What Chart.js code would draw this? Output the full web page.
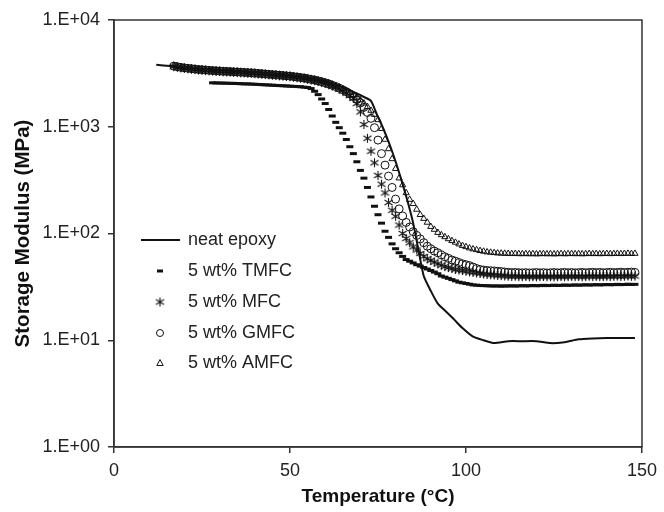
<!DOCTYPE html>
<html>
<head>
<meta charset="utf-8">
<script src="https://cdn.jsdelivr.net/npm/chart.js@4"></script>
<style>
  body { margin: 0; background: #fff; }
  #wrap { width: 664px; height: 512px; }
</style>
</head>
<body>
<div id="wrap"><canvas id="dmaChart" width="664" height="512"></canvas></div>
<script>
// temperatures (°C) of the composite scans, one point per degree
const tempC = [
  17, 18, 19, 20, 21, 22, 23, 24, 25, 26,
  27, 28, 29, 30, 31, 32, 33, 34, 35, 36,
  37, 38, 39, 40, 41, 42, 43, 44, 45, 46,
  47, 48, 49, 50, 51, 52, 53, 54, 55, 56,
  57, 58, 59, 60, 61, 62, 63, 64, 65, 66,
  67, 68, 69, 70, 71, 72, 73, 74, 75, 76,
  77, 78, 79, 80, 81, 82, 83, 84, 85, 86,
  87, 88, 89, 90, 91, 92, 93, 94, 95, 96,
  97, 98, 99, 100, 101, 102, 103, 104, 105, 106,
  107, 108, 109, 110, 111, 112, 113, 114, 115, 116,
  117, 118, 119, 120, 121, 122, 123, 124, 125, 126,
  127, 128, 129, 130, 131, 132, 133, 134, 135, 136,
  137, 138, 139, 140, 141, 142, 143, 144, 145, 146,
  147, 148
];

// neat epoxy (solid line)
const neatTemp = [12, 16, 20, 25, 30, 35, 40, 45, 50, 55, 60, 64, 67, 69, 71, 73, 74.5, 76, 77.5, 79,
  80.5, 82, 83.5, 85, 86.5, 88, 90, 92, 94, 96.5, 99, 102, 105, 108, 112, 116, 120, 124, 128, 132,
  136, 140, 144, 148];
const neatE = [3800, 3700, 3600, 3500, 3400, 3350, 3250, 3150, 3050, 2900, 2650, 2400, 2200, 2050, 1900, 1750, 1350, 1050, 800, 590,
  420, 290, 195, 125, 70, 40, 29, 22, 19, 15.8, 13, 10.8, 10, 9.4, 9.8, 9.8, 9.8, 9.4, 9.6, 10.2,
  10.4, 10.5, 10.5, 10.5];

// 5 wt% TMFC starts at 28 °C
const tmfcStart = 11;
const tmfcE = [
  2580, 2570, 2570, 2560, 2560, 2550, 2550, 2540, 2530, 2520,
  2520, 2510, 2500, 2490, 2480, 2470, 2460, 2450, 2440, 2430,
  2420, 2410, 2400, 2390, 2380, 2370, 2350, 2330, 2280, 2150,
  2000, 1820, 1650, 1450, 1260, 1100, 980, 870, 760, 650,
  560, 470, 390, 330, 270, 220, 180, 150, 125, 105,
  92, 80, 72, 66, 61, 57, 55, 53, 51, 49.5,
  48, 46.5, 45, 43.5, 42, 40, 39, 38, 37, 36,
  35, 34.5, 34, 33.5, 33, 32.8, 32.6, 32.5, 32.4, 32.3,
  32.2, 32.3, 32.1, 32.3, 32.2, 32.4, 32.2, 32.3, 32.5, 32.3,
  32.4, 32.6, 32.4, 32.5, 32.7, 32.5, 32.6, 32.8, 32.6, 32.7,
  32.9, 32.7, 32.8, 33, 32.8, 32.9, 33.1, 32.9, 33, 33.2,
  33, 33.1, 33.3, 33.1, 33.2, 33.4, 33.2, 33.3, 33.5, 33.3,
  33.4
];

const mfcE = [
  3650, 3600, 3560, 3520, 3490, 3460, 3430, 3400, 3380, 3360,
  3340, 3320, 3300, 3290, 3270, 3260, 3250, 3230, 3220, 3200,
  3190, 3170, 3160, 3140, 3120, 3100, 3080, 3060, 3040, 3020,
  3000, 2980, 2960, 2940, 2910, 2880, 2850, 2820, 2780, 2740,
  2700, 2650, 2600, 2540, 2480, 2410, 2340, 2260, 2170, 2070,
  1960, 1840, 1650, 1380, 1050, 780, 590, 460, 350, 290,
  240, 195, 165, 145, 120, 100, 90, 82, 75, 70,
  65, 61, 58, 56, 54, 52, 50.5, 49, 48, 47,
  46, 45.5, 45, 44.3, 43.7, 43.2, 42.7, 42.2, 41.8, 41.4,
  41.1, 40.8, 40.5, 40.3, 40, 39.8, 39.6, 39.8, 39.5, 39.4,
  39.6, 39.3, 39.5, 39.2, 39.4, 39.6, 39.3, 39.5, 39.2, 39.4,
  39.6, 39.3, 39.5, 39.7, 39.4, 39.6, 39.3, 39.5, 39.8, 39.5,
  39.7, 39.4, 39.6, 39.8, 39.5, 39.7, 39.9, 39.6, 39.8, 40,
  39.7, 39.9
];

const gmfcE = [
  3700, 3650, 3600, 3560, 3530, 3500, 3470, 3440, 3420, 3400,
  3380, 3360, 3340, 3330, 3310, 3300, 3290, 3270, 3260, 3240,
  3230, 3210, 3200, 3180, 3160, 3140, 3120, 3100, 3080, 3060,
  3040, 3020, 3000, 2980, 2950, 2920, 2890, 2860, 2820, 2780,
  2740, 2690, 2640, 2580, 2520, 2450, 2380, 2300, 2220, 2130,
  2030, 1920, 1800, 1670, 1520, 1360, 1200, 980, 750, 560,
  437, 345, 270, 210, 170, 146, 127, 115, 104, 96,
  89, 82, 76, 72, 68.5, 66, 63, 60.5, 58.5, 56.5,
  55, 53.5, 52, 51, 50, 48.5, 47, 46, 45.4, 45,
  44.8, 44.6, 44.3, 44, 43.6, 43.3, 43, 43.2, 42.9, 42.8,
  43, 42.7, 42.9, 43.1, 42.8, 43, 42.7, 42.9, 43.1, 42.8,
  43, 43.2, 42.9, 43.1, 42.8, 43, 43.2, 42.9, 43.1, 43.3,
  43, 43.2, 42.9, 43.1, 43.3, 43, 43.2, 43.4, 43.1, 43.3,
  43.5, 43.2
];

const amfcE = [
  3750, 3700, 3650, 3610, 3580, 3550, 3520, 3490, 3470, 3450,
  3430, 3410, 3390, 3380, 3360, 3350, 3340, 3320, 3310, 3290,
  3280, 3260, 3250, 3230, 3210, 3190, 3170, 3150, 3130, 3110,
  3090, 3070, 3050, 3030, 3000, 2970, 2940, 2910, 2870, 2830,
  2790, 2740, 2690, 2630, 2570, 2500, 2430, 2350, 2270, 2180,
  2090, 1990, 1890, 1780, 1660, 1540, 1420, 1300, 1160, 960,
  760, 620, 500, 405, 330, 285, 240, 208, 190, 168,
  150, 138, 127, 116, 109, 102, 97, 93, 89, 85.5,
  82.5, 79.5, 77, 75, 73, 71.5, 70.3, 69, 68, 67,
  66.5, 66, 65.5, 65.2, 65, 64.8, 64.6, 64.8, 64.5, 64.4,
  64.6, 64.3, 64.5, 64.2, 64.4, 64.6, 64.3, 64.5, 64.2, 64.4,
  64.6, 64.3, 64.5, 64.7, 64.4, 64.6, 64.3, 64.5, 64.8, 64.5,
  64.7, 64.4, 64.6, 64.8, 64.5, 64.7, 64.9, 64.6, 64.8, 65,
  64.7, 64.9
];

const seriesNames = ["neat epoxy", "5 wt% TMFC", "5 wt% MFC", "5 wt% GMFC", "5 wt% AMFC"];
const yTicks = [1, 10, 100, 1000, 10000];
const xTicks = [0, 50, 100, 150];

const ink = "#111";
const fontFamily = "'Liberation Sans', Arial, sans-serif";

// six-armed asterisk used for the MFC points
const star = document.createElement("canvas");
star.width = 11;
star.height = 11;
(function () {
  const c = star.getContext("2d");
  c.strokeStyle = ink;
  c.lineWidth = 1.1;
  c.beginPath();
  c.moveTo(5.5, 1); c.lineTo(5.5, 10);
  c.moveTo(1.5, 3); c.lineTo(9.5, 8);
  c.moveTo(9.5, 3); c.lineTo(1.5, 8);
  c.stroke();
})();

const pts = (xs, ys) => ys.map((v, i) => ({ x: xs[i], y: v }));

const markerStyles = [
  null,
  { pointStyle: "line", pointRadius: 3.5, pointBorderWidth: 3 },
  { pointStyle: star, pointRadius: 5, pointBorderWidth: 1 },
  { pointStyle: "circle", pointRadius: 4, pointBorderWidth: 1 },
  { pointStyle: "triangle", pointRadius: 3.6, pointBorderWidth: 1 }
];

function markerSet(label, data, style) {
  return Object.assign({
    label,
    data,
    showLine: false,
    borderColor: ink,
    backgroundColor: "rgba(0,0,0,0)",
    pointBorderColor: ink,
    pointBackgroundColor: "rgba(0,0,0,0)"
  }, style);
}

const frameAndLegend = {
  id: "frameAndLegend",
  afterDraw(chart) {
    const { ctx, chartArea: a } = chart;
    ctx.save();
    ctx.strokeStyle = "#333";
    ctx.lineWidth = 1.5;
    ctx.strokeRect(a.left, a.top, a.right - a.left, a.bottom - a.top);

    const rows = [240, 271, 302, 333, 363];
    const mx = 160;
    ctx.fillStyle = "#222";
    ctx.font = "18px " + fontFamily;
    ctx.textBaseline = "middle";
    ctx.textAlign = "left";
    rows.forEach((y, i) => {
      ctx.fillText(seriesNames[i], 188, y);
    });

    ctx.strokeStyle = ink;
    // line sample
    ctx.lineWidth = 2;
    ctx.beginPath();
    ctx.moveTo(141, rows[0]); ctx.lineTo(180, rows[0]);
    ctx.stroke();
    // dash
    ctx.lineWidth = 3;
    ctx.beginPath();
    ctx.moveTo(mx - 3, rows[1]); ctx.lineTo(mx + 3, rows[1]);
    ctx.stroke();
    // asterisk
    ctx.drawImage(star, mx - 5.5, rows[2] - 5.5);
    // circle
    ctx.lineWidth = 1;
    ctx.beginPath();
    ctx.arc(mx, rows[3], 3.5, 0, Math.PI * 2);
    ctx.stroke();
    // triangle
    ctx.beginPath();
    ctx.moveTo(mx, rows[4] - 3.5);
    ctx.lineTo(mx + 3.2, rows[4] + 2.5);
    ctx.lineTo(mx - 3.2, rows[4] + 2.5);
    ctx.closePath();
    ctx.stroke();
    ctx.restore();
  }
};

new Chart(document.getElementById("dmaChart"), {
  type: "scatter",
  data: {
    datasets: [
      {
        label: seriesNames[0],
        data: pts(neatTemp, neatE),
        showLine: true,
        borderColor: ink,
        borderWidth: 2,
        pointRadius: 0,
        tension: 0.2
      },
      markerSet(seriesNames[1], pts(tempC.slice(tmfcStart), tmfcE), markerStyles[1]),
      markerSet(seriesNames[2], pts(tempC, mfcE), markerStyles[2]),
      markerSet(seriesNames[3], pts(tempC, gmfcE), markerStyles[3]),
      markerSet(seriesNames[4], pts(tempC, amfcE), markerStyles[4])
    ]
  },
  options: {
    responsive: false,
    animation: false,
    layout: { padding: { top: 20, right: 19, left: 0, bottom: 0 } },
    plugins: {
      legend: { display: false },
      tooltip: { enabled: false }
    },
    scales: {
      x: {
        type: "linear",
        min: 0,
        max: 150,
        afterBuildTicks: s => { s.ticks = xTicks.map(v => ({ value: v })); },
        afterFit: s => { s.height = 65; },
        grid: { drawOnChartArea: false, tickLength: 6, color: "#333", lineWidth: 1.5 },
        border: { color: "#333", width: 1.5 },
        ticks: { color: "#222", padding: 7, font: { family: fontFamily, size: 18 } },
        title: {
          display: true,
          text: "Temperature (°C)",
          color: "#111",
          padding: { top: 0, bottom: 4 },
          font: { family: fontFamily, size: 19, weight: "bold" }
        }
      },
      y: {
        type: "logarithmic",
        min: 1,
        max: 10000,
        afterBuildTicks: s => { s.ticks = yTicks.map(v => ({ value: v })); },
        afterFit: s => { s.width = 114; },
        grid: { drawOnChartArea: false, tickLength: 6, color: "#333", lineWidth: 1.5 },
        border: { color: "#333", width: 1.5 },
        ticks: {
          color: "#222",
          padding: 8,
          font: { family: fontFamily, size: 18 },
          callback: v => "1.E+" + String(Math.round(Math.log10(v))).padStart(2, "0")
        },
        title: {
          display: true,
          text: "Storage Modulus (MPa)",
          color: "#111",
          padding: { top: 11, bottom: 0 },
          font: { family: fontFamily, size: 20.5, weight: "bold" }
        }
      }
    }
  },
  plugins: [frameAndLegend]
});
</script>
</body>
</html>
